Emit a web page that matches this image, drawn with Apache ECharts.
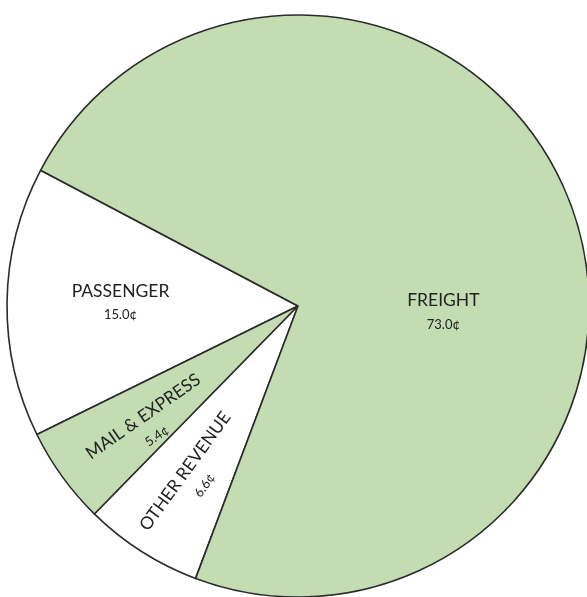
<!DOCTYPE html>
<html>
<head>
<meta charset="utf-8">
<style>
  html, body { margin: 0; padding: 0; background: #ffffff; }
  #chart { width: 587px; height: 597px; }
</style>
<script src="https://cdn.jsdelivr.net/npm/echarts@6/dist/echarts.min.js"></script>
</head>
<body>
<div id="chart"></div>
<script>
// Where each revenue dollar comes from (cents per dollar)
const categories = ['PASSENGER', 'MAIL & EXPRESS', 'OTHER REVENUE', 'FREIGHT'];
const cents = [15.0, 5.4, 6.6, 73.0];
const fills = ['#ffffff', '#c3dcb2', '#ffffff', '#c3dcb2'];

// Label placement per slice: angle shift from the slice middle (deg),
// distance from the centre as a share of the radius, text rotation (deg)
const labelShift = [-0.4, 2.9, 1.3, -23.1];
const labelDist = [0.61, 0.655, 0.69, 0.50];
const labelTurn = [0, 35, 54, 0];

const CX = 298, CY = 306, R = 291, START = 152.2;

const total = cents.reduce((a, b) => a + b, 0);
const midAngles = [];
let acc = START;
cents.forEach(v => {
  const span = v / total * 360;
  midAngles.push(acc + span / 2);
  acc += span;
});

const chart = echarts.init(document.getElementById('chart'));
chart.setOption({
  backgroundColor: '#ffffff',
  animation: false,
  series: [{
    type: 'pie',
    center: [CX, CY],
    radius: [0, R],
    startAngle: START,
    clockwise: false,
    minShowLabelAngle: 0,
    avoidLabelOverlap: false,
    itemStyle: { borderColor: '#2b2b2b', borderWidth: 1.6 },
    emphasis: { disabled: true },
    label: {
      show: true,
      position: 'inside',
      fontFamily: 'Lato',
      color: '#222222',
      formatter: p => '{n|' + p.name + '}\n{v|' + p.value.toFixed(1) + '¢}',
      rich: {
        n: { fontSize: 17.5, lineHeight: 26, fontFamily: 'Lato', color: '#222222' },
        v: { fontSize: 13, lineHeight: 22, fontFamily: 'Lato', color: '#222222' }
      }
    },
    labelLine: { show: false },
    labelLayout: function (params) {
      const i = params.dataIndex;
      const a = (midAngles[i] + labelShift[i]) * Math.PI / 180;
      const d = R * labelDist[i];
      return {
        x: CX + d * Math.cos(a),
        y: CY - d * Math.sin(a),
        rotate: labelTurn[i],
        align: 'center',
        verticalAlign: 'middle'
      };
    },
    data: categories.map((name, i) => ({
      name: name,
      value: cents[i],
      itemStyle: { color: fills[i] }
    }))
  }]
});
</script>
</body>
</html>
